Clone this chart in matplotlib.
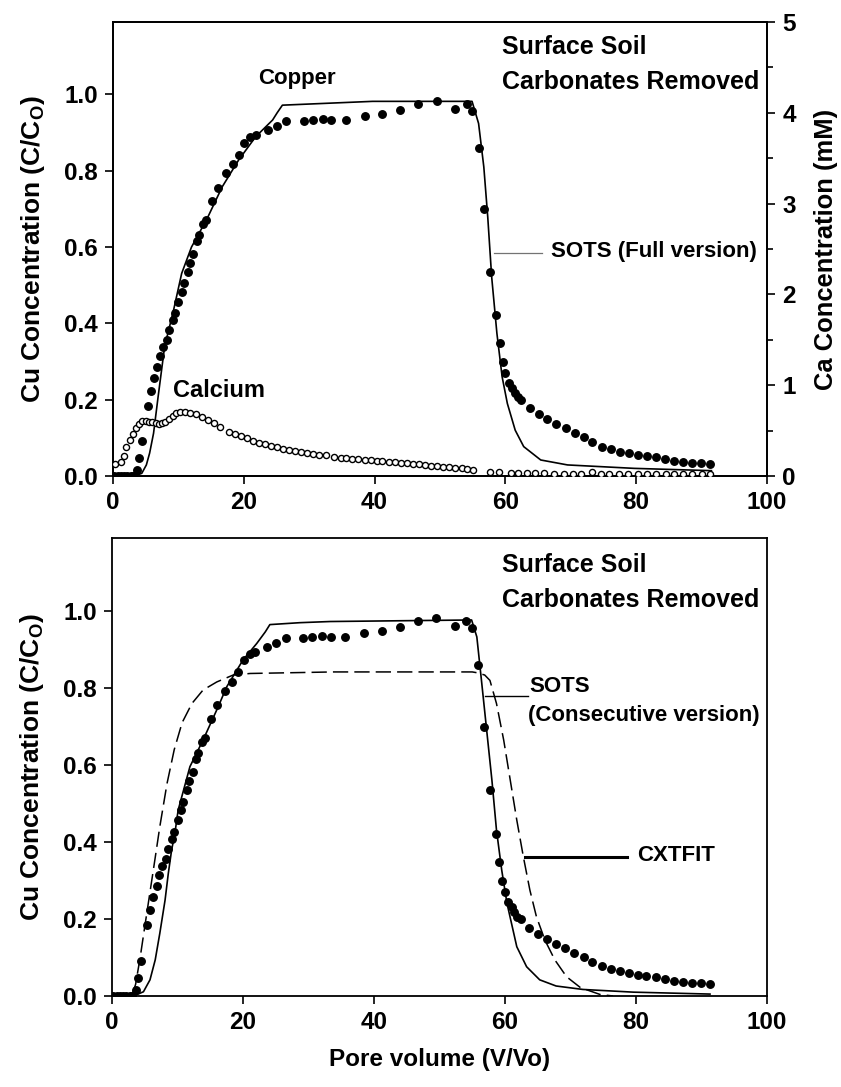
import matplotlib
matplotlib.use('Agg')
import matplotlib.pyplot as plt
from matplotlib.ticker import MultipleLocator

plt.rcParams['font.family'] = ['Liberation Sans', 'DejaVu Sans']
plt.rcParams['font.weight'] = 'bold'
plt.rcParams['axes.labelweight'] = 'bold'
plt.rcParams['mathtext.fontset'] = 'custom'
plt.rcParams['mathtext.rm'] = 'Liberation Sans:bold'
plt.rcParams['mathtext.bf'] = 'Liberation Sans:bold'
plt.rcParams['mathtext.default'] = 'bf'

FS = 17.5

# measured copper breakthrough (C/Co), same data in both panels
cu_x = [0.2, 0.7, 1.2, 1.7, 2.2, 2.7, 3.1, 3.6, 4.0, 4.4, 5.4, 5.8, 6.3, 6.8, 7.2, 7.7, 8.2, 8.6,
        9.1, 9.5, 10.0, 10.5, 10.9, 11.4, 11.8, 12.3, 12.8, 13.2, 13.7, 14.2, 15.1, 16.0, 17.3,
        18.3, 19.2, 20.1, 21.0, 21.9, 23.7, 25.1, 26.5, 29.2, 30.6, 32.1, 33.4, 35.6, 38.5, 41.2,
        43.9, 46.7, 49.5, 52.3, 54.1, 54.9, 55.9, 56.8, 57.7, 58.6, 59.1, 59.6, 60.0, 60.5, 61.0,
        61.4, 61.9, 62.4, 63.7, 65.1, 66.4, 67.8, 69.2, 70.6, 72.0, 73.3, 74.8, 76.2, 77.5, 78.9,
        80.3, 81.6, 83.0, 84.4, 85.8, 87.2, 88.6, 89.9, 91.3]
cu_y = [0, 0, 0, 0, 0, 0, 0, 0.016, 0.046, 0.092, 0.184, 0.223, 0.258, 0.285, 0.314, 0.339, 0.356,
        0.383, 0.409, 0.426, 0.457, 0.483, 0.505, 0.535, 0.559, 0.583, 0.616, 0.631, 0.660, 0.671,
        0.720, 0.756, 0.793, 0.817, 0.842, 0.872, 0.889, 0.893, 0.906, 0.917, 0.930, 0.931, 0.933,
        0.936, 0.934, 0.933, 0.944, 0.948, 0.959, 0.974, 0.982, 0.961, 0.975, 0.956, 0.859, 0.699,
        0.535, 0.421, 0.348, 0.299, 0.269, 0.244, 0.230, 0.217, 0.206, 0.199, 0.177, 0.162, 0.149,
        0.136, 0.125, 0.113, 0.102, 0.089, 0.077, 0.070, 0.064, 0.059, 0.055, 0.052, 0.049, 0.044,
        0.039, 0.037, 0.035, 0.033, 0.032]

# measured calcium (mM), right axis of top panel
ca_x = [0.35, 1.2, 1.7, 2.0, 2.6, 3.1, 3.5, 4.0, 4.5, 5.0, 5.5, 6.0, 6.5, 7.0, 7.5, 8.0, 8.6, 9.1,
        9.6, 10.3, 11.0, 11.8, 12.7, 13.6, 14.5, 15.4, 16.4, 17.7, 18.6, 19.5, 20.5, 21.4, 22.3,
        23.2, 24.2, 25.1, 26.0, 26.9, 27.8, 28.8, 29.7, 30.6, 31.5, 32.5, 33.8, 34.8, 35.7, 36.6,
        37.5, 38.5, 39.4, 40.3, 41.2, 42.2, 43.1, 44.0, 44.9, 45.9, 46.8, 47.7, 48.6, 49.6, 50.5,
        51.4, 52.3, 53.3, 54.2, 55.1, 57.7, 59.0, 60.8, 62.0, 63.3, 64.6, 65.9, 67.5, 68.9, 70.3,
        71.6, 73.3, 74.6, 75.9, 77.3, 78.7, 80.3, 81.7, 83.1, 84.5, 85.8, 87.2, 88.6, 90.0, 91.3]
ca_mm = [0.132, 0.158, 0.224, 0.316, 0.396, 0.463, 0.525, 0.573, 0.609, 0.609, 0.598, 0.590, 0.580,
         0.573, 0.580, 0.598, 0.624, 0.660, 0.690, 0.708, 0.708, 0.697, 0.680, 0.653, 0.617, 0.580,
         0.536, 0.488, 0.463, 0.440, 0.415, 0.389, 0.367, 0.349, 0.330, 0.316, 0.297, 0.286, 0.275,
         0.264, 0.257, 0.246, 0.235, 0.228, 0.206, 0.198, 0.195, 0.190, 0.184, 0.180, 0.174, 0.170,
         0.164, 0.158, 0.152, 0.146, 0.140, 0.133, 0.127, 0.121, 0.115, 0.110, 0.104, 0.097, 0.091,
         0.085, 0.079, 0.070, 0.047, 0.047, 0.030, 0.030, 0.030, 0.030, 0.028, 0.024, 0.024, 0.024,
         0.024, 0.040, 0.024, 0.024, 0.024, 0.024, 0.024, 0.024, 0.024, 0.024, 0.024, 0.024, 0.024,
         0.024, 0.024]

# SOTS full version (top)
full_x = [0, 3.3, 4.4, 5.1, 5.6, 6.2, 6.9, 7.9, 9.2, 10.5, 12.0, 14.4, 16.7, 19.2, 21.8, 24.4,
          25.1, 25.9, 39.7, 54.9, 55.9, 56.7, 57.3, 57.9, 58.7, 59.5, 60.3, 61.5, 62.8, 65.4,
          69.5, 79.7, 91.5]
full_y = [0, 0, 0.007, 0.029, 0.060, 0.112, 0.208, 0.340, 0.430, 0.531, 0.600, 0.675, 0.758,
          0.828, 0.889, 0.933, 0.952, 0.972, 0.982, 0.982, 0.924, 0.810, 0.679, 0.522, 0.374,
          0.260, 0.190, 0.120, 0.077, 0.042, 0.029, 0.020, 0.014]

# SOTS consecutive version (bottom, solid)
cons_x = [0, 3.3, 4.8, 5.8, 6.6, 7.3, 8.1, 8.6, 9.1, 9.6, 10.1, 11.9, 13.9, 16.2, 17.5, 20.0,
          22.1, 23.4, 24.1, 28.7, 33.3, 54.9, 55.7, 56.4, 57.2, 58.0, 58.7, 59.5, 60.3, 61.8,
          63.3, 65.3, 67.8, 71.9, 79.6, 91.3]
cons_y = [0, 0, 0.011, 0.042, 0.094, 0.163, 0.249, 0.319, 0.379, 0.423, 0.483, 0.596, 0.665,
          0.751, 0.803, 0.873, 0.916, 0.946, 0.965, 0.970, 0.973, 0.977, 0.933, 0.821, 0.691,
          0.561, 0.431, 0.327, 0.241, 0.128, 0.076, 0.042, 0.026, 0.017, 0.010, 0.005]

# CXTFIT (bottom, dashed)
cxt_x = [0, 3.0, 3.6, 4.3, 5.0, 5.8, 6.6, 7.3, 8.4, 9.5, 10.7, 12.2, 13.9, 16.0, 18.5, 21.1,
         33.8, 55.0, 55.7, 56.9, 57.7, 58.7, 59.8, 60.8, 61.8, 62.8, 63.8, 64.8, 66.1, 67.6,
         69.4, 71.5, 74.5, 76.5]
cxt_y = [0, 0, 0.030, 0.100, 0.180, 0.270, 0.360, 0.440, 0.552, 0.640, 0.710, 0.760, 0.795,
         0.816, 0.834, 0.838, 0.842, 0.842, 0.840, 0.834, 0.820, 0.760, 0.665, 0.561, 0.457,
         0.362, 0.275, 0.206, 0.145, 0.094, 0.050, 0.022, 0.004, 0.0]

cu_label = r'Cu Concentration (C/C$_{\mathbf{O}}$)'

fig = plt.figure(figsize=(8.41, 10.87), dpi=100)
ax1 = fig.add_axes([113/841, 1-476/1087, 654/841, 454/1087])
ax2 = fig.add_axes([112/841, 1-996/1087, 655/841, 458/1087])

for ax in (ax1, ax2):
    ax.set_xlim(0, 100)
    ax.set_ylim(0, 1.19)
    ax.set_xticks([0, 20, 40, 60, 80, 100])
    ax.set_yticks([0, 0.2, 0.4, 0.6, 0.8, 1.0])
    ax.set_yticklabels(['0.0', '0.2', '0.4', '0.6', '0.8', '1.0'])
    ax.tick_params(direction='out', length=6, width=1.2, labelsize=FS, pad=5)
    for s in ax.spines.values():
        s.set_linewidth(1.3)
    ax.set_ylabel(cu_label, fontsize=19, labelpad=12)

# top panel
ax1.plot(full_x, full_y, color='k', lw=1.2, zorder=2)
ax1.plot(cu_x, cu_y, 'o', color='k', ms=5.4, zorder=3)
axr = ax1.twinx()
axr.set_position(ax1.get_position())
axr.plot(ca_x, ca_mm, 'o', mfc='white', mec='k', ms=4.4, mew=1.0, zorder=3)
axr.set_ylim(0, 5)
axr.set_yticks([0, 1, 2, 3, 4, 5])
axr.yaxis.set_minor_locator(MultipleLocator(0.5))
axr.tick_params(direction='out', length=6, width=1.2, labelsize=FS, pad=5)
axr.tick_params(which='minor', direction='out', length=4, width=1.2)
axr.set_ylabel('Ca Concentration (mM)', fontsize=18.4, labelpad=13)
for s in axr.spines.values():
    s.set_linewidth(1.3)

ax1.text(28.2, 1.043, 'Copper', fontsize=16, ha='center', va='center')
ax1.text(9.2, 0.225, 'Calcium', fontsize=17, ha='left', va='center')
ax1.text(59.5, 1.125, 'Surface Soil', fontsize=18, ha='left', va='center')
ax1.text(59.5, 1.033, 'Carbonates Removed', fontsize=18, ha='left', va='center')
ax1.plot([58.2, 65.6], [0.585, 0.585], color='0.45', lw=0.9)
ax1.text(66.9, 0.588, 'SOTS (Full version)', fontsize=16, ha='left', va='center')

# bottom panel
ax2.plot(cons_x, cons_y, color='k', lw=1.2, zorder=2)
ax2.plot(cxt_x, cxt_y, color='k', lw=1.1, dashes=(10, 4), zorder=2)
ax2.plot(cu_x, cu_y, 'o', color='k', ms=5.4, zorder=3)
ax2.text(59.5, 1.119, 'Surface Soil', fontsize=18, ha='left', va='center')
ax2.text(59.5, 1.029, 'Carbonates Removed', fontsize=18, ha='left', va='center')
ax2.plot([56.9, 63.5], [0.779, 0.779], color='k', lw=1.0)
ax2.text(63.7, 0.803, 'SOTS', fontsize=16, ha='left', va='center')
ax2.text(63.5, 0.730, '(Consecutive version)', fontsize=16, ha='left', va='center')
ax2.plot([63.1, 78.6], [0.362, 0.362], color='k', lw=2.2)
ax2.text(80.1, 0.366, 'CXTFIT', fontsize=16, ha='left', va='center')
ax2.set_xlabel('Pore volume (V/Vo)', fontsize=FS, labelpad=10)

fig.savefig('out.png', dpi=100)
